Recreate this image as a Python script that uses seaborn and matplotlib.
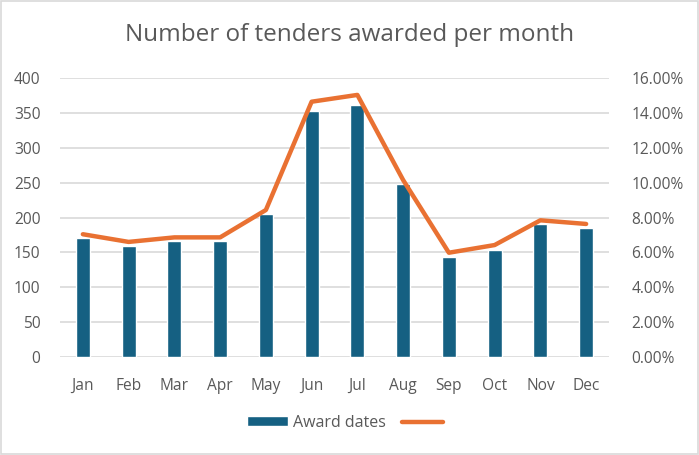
import matplotlib
matplotlib.use("Agg")
import matplotlib.pyplot as plt
import seaborn as sns
import pandas as pd
from matplotlib.patches import Patch, Rectangle
from matplotlib.lines import Line2D
from matplotlib.ticker import FuncFormatter

months = ["Jan", "Feb", "Mar", "Apr", "May", "Jun", "Jul", "Aug", "Sep", "Oct", "Nov", "Dec"]
award_counts = [170, 159, 166, 166, 205, 352, 362, 248, 143, 154, 190, 185]
award_share = [7.04, 6.60, 6.86, 6.86, 8.43, 14.64, 15.03, 10.15, 5.98, 6.42, 7.84, 7.63]

df = pd.DataFrame({"month": months, "count": award_counts, "share": award_share})

sns.set_theme(style="white")
plt.rcParams["font.family"] = ["Open Sans", "DejaVu Sans"]

grey = "#595959"
bar_col = "#156082"
line_col = "#E97132"

fig = plt.figure(figsize=(6.99, 4.55), dpi=100)
ax = fig.add_axes([60/699, 98/455, 549/699, 279/455])

sns.barplot(data=df, x="month", y="count", color=bar_col, width=0.31,
            saturation=1, ax=ax, zorder=2)
ax.set_ylim(0, 400)
ax.set_yticks(range(0, 401, 50))
ax.set_xlim(-0.5, 11.5)
ax.yaxis.grid(True, color="#D9D9D9", linewidth=1.2, zorder=0)
ax.set_axisbelow(True)
ax.set_xlabel("")
ax.set_ylabel("")
for s in ax.spines.values():
    s.set_visible(False)
ax.tick_params(axis="both", length=0, colors=grey, labelsize=11.2)
ax.tick_params(axis="x", pad=15)
ax.tick_params(axis="y", pad=14)

ax2 = ax.twinx()
sns.lineplot(x=list(range(len(months))), y=award_share, color=line_col,
             linewidth=3.2, ax=ax2, zorder=3)
ax2.set_ylim(0, 16)
ax2.set_yticks(range(0, 17, 2))
ax2.yaxis.set_major_formatter(FuncFormatter(lambda v, p: f"{v:.2f}%"))
for s in ax2.spines.values():
    s.set_visible(False)
ax2.tick_params(axis="y", length=0, colors=grey, labelsize=11.2, pad=16)
ax2.set_ylabel("")
ax2.set_xlim(-0.5, 11.5)

fig.text(0.5, 1 - 35/455, "Number of tenders awarded per month", ha="center",
         va="center", fontsize=17.5, color=grey)

handles = [Patch(facecolor=bar_col, label="Award dates"),
           Line2D([0], [0], color=line_col, linewidth=3.2, label=" ", solid_capstyle="round")]
fig.legend(handles=handles, loc="center", bbox_to_anchor=(0.5, 1 - 423/455),
           ncol=2, frameon=False, fontsize=11.5, labelcolor=grey,
           handlelength=2.6, handleheight=0.6, columnspacing=1.0, handletextpad=0.3)

fig.patches.append(Rectangle((0.002, 0.002), 0.996, 0.996, transform=fig.transFigure,
                             fill=False, edgecolor="#D9D9D9", linewidth=1.2))

fig.savefig("out.png", dpi=100, facecolor="white")
